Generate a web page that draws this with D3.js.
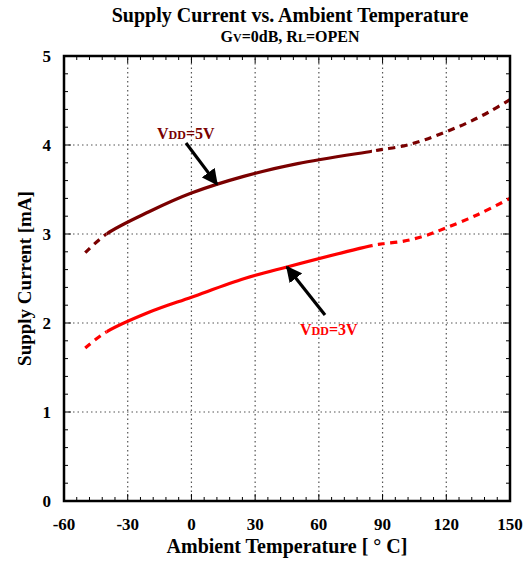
<!DOCTYPE html>
<html><head><meta charset="utf-8">
<script src="https://cdn.jsdelivr.net/npm/d3@7"></script>
<style>body{margin:0;background:#fff}svg{display:block}text{font-family:"Liberation Serif","Times New Roman",serif;font-weight:bold}</style>
</head><body>
<script>
const temps5 = [-50,-40,-20,0,25,50,85,90,100,110,120,130,140,150];
const vdd5   = [2.79,3.0,3.25,3.46,3.65,3.79,3.93,3.95,3.99,4.06,4.15,4.25,4.37,4.51];
const temps3 = [-50,-40,-20,0,25,45,85,90,100,110,120,135,150];
const vdd3   = [1.72,1.9,2.12,2.29,2.5,2.63,2.87,2.89,2.92,2.98,3.07,3.22,3.4];
const xTicks = [-60,-30,0,30,60,90,120,150];
const yTicks = [0,1,2,3,4,5];

const W=532,H=561, m={l:64,r:22,t:56,b:60};
const svg=d3.select("body").append("svg").attr("width",W).attr("height",H);
const x=d3.scaleLinear().domain([-60,150]).range([m.l,W-m.r]);
const y=d3.scaleLinear().domain([0,5]).range([H-m.b,m.t]);
const defs=svg.append("defs");

// grid
const g=svg.append("g");
g.selectAll(".vg").data(xTicks.slice(1,-1)).join("line")
 .attr("x1",d=>x(d)).attr("x2",d=>x(d)).attr("y1",y(0)).attr("y2",y(5))
 .attr("stroke","#555").attr("stroke-width",1.2).attr("stroke-dasharray","1.5,3");
g.selectAll(".hg").data(yTicks.slice(1,-1)).join("line")
 .attr("y1",d=>y(d)).attr("y2",d=>y(d)).attr("x1",x(-60)).attr("x2",x(150))
 .attr("stroke","#555").attr("stroke-width",1.2).attr("stroke-dasharray","1.5,3");

// ticks inside
const xm=d3.range(-60,150.1,6), ym=d3.range(0,5.01,0.2);
const tk=svg.append("g").attr("stroke","#000").attr("stroke-width",1);
xm.forEach(v=>{const L=(v%30===0)?7:4;
 tk.append("line").attr("x1",x(v)).attr("x2",x(v)).attr("y1",y(0)).attr("y2",y(0)-L);
 tk.append("line").attr("x1",x(v)).attr("x2",x(v)).attr("y1",y(5)).attr("y2",y(5)+L);});
ym.forEach(v=>{const L=(Math.abs(v-Math.round(v))<1e-6)?7:4;
 tk.append("line").attr("y1",y(v)).attr("y2",y(v)).attr("x1",x(-60)).attr("x2",x(-60)+L);
 tk.append("line").attr("y1",y(v)).attr("y2",y(v)).attr("x1",x(150)).attr("x2",x(150)-L);});

// clip regions: solid between -40 and 85, dashed outside
function clip(id,a,b){defs.append("clipPath").attr("id",id).append("rect")
 .attr("x",x(a)).attr("y",0).attr("width",x(b)-x(a)).attr("height",H);}
clip("cs",-40,85); clip("cl",-70,-40); clip("cr",85,170);

const line=d3.line().x(d=>x(d[0])).y(d=>y(d[1])).curve(d3.curveCatmullRom.alpha(0.5));
function drawSeries(ts,vs,color){
  const pts=ts.map((t,i)=>[t,vs[i]]);
  const d=line(pts);
  [["cl",true],["cs",false],["cr",true]].forEach(([c,dash])=>{
    svg.append("path").attr("d",d).attr("clip-path","url(#"+c+")").attr("fill","none")
      .attr("stroke",color).attr("stroke-width",3.2).attr("stroke-dasharray",dash?"7,5.5":null);
  });
}
drawSeries(temps5,vdd5,"#7a0000");
drawSeries(temps3,vdd3,"#ff0000");

// frame
svg.append("rect").attr("x",x(-60)).attr("y",y(5)).attr("width",x(150)-x(-60)).attr("height",y(0)-y(5))
 .attr("fill","none").attr("stroke","#000").attr("stroke-width",2.5);

// tick labels
svg.selectAll(".xl").data(xTicks).join("text").attr("x",d=>x(d)).attr("y",H-m.b+29)
 .attr("text-anchor","middle").attr("font-size",17).text(d=>d);
svg.selectAll(".yl").data(yTicks).join("text").attr("x",m.l-13).attr("y",d=>y(d)+6)
 .attr("text-anchor","end").attr("font-size",17).text(d=>d);

// titles
svg.append("text").attr("x",290).attr("y",22).attr("text-anchor","middle").attr("font-size",20).text("Supply Current vs. Ambient Temperature");
const st=svg.append("text").attr("x",290).attr("y",42).attr("text-anchor","middle").attr("font-size",16);
st.append("tspan").text("G"); st.append("tspan").attr("font-size",12).text("V");
st.append("tspan").text("=0dB, R"); st.append("tspan").attr("font-size",12).text("L");
st.append("tspan").text("=OPEN");
svg.append("text").attr("x",287).attr("y",553).attr("text-anchor","middle").attr("font-size",20).text("Ambient Temperature [ ° C]");
svg.append("text").attr("transform","translate(31,"+(y(2.5))+") rotate(-90)").attr("text-anchor","middle").attr("font-size",19).text("Supply Current [mA]");

// annotations
function label(xp,yp,color,v){
  const t=svg.append("text").attr("x",xp).attr("y",yp).attr("fill",color).attr("font-size",16);
  t.append("tspan").text("V"); t.append("tspan").attr("font-size",12).text("DD"); t.append("tspan").text("="+v);
}
label(157,139,"#7a0000","5V");
label(300,335,"#ff0000","3V");
defs.append("marker").attr("id","ah").attr("viewBox","0 0 10 10").attr("refX",9).attr("refY",5)
 .attr("markerWidth",5).attr("markerHeight",5).attr("orient","auto")
 .append("path").attr("d","M0,0 L10,5 L0,10 Z").attr("fill","#000");
svg.append("line").attr("x1",186).attr("y1",143).attr("x2",x(12)).attr("y2",y(3.56)).attr("stroke","#000").attr("stroke-width",3.2).attr("marker-end","url(#ah)");
svg.append("line").attr("x1",325).attr("y1",315).attr("x2",x(45)).attr("y2",y(2.63)).attr("stroke","#000").attr("stroke-width",3.2).attr("marker-end","url(#ah)");
</script>
</body></html>
